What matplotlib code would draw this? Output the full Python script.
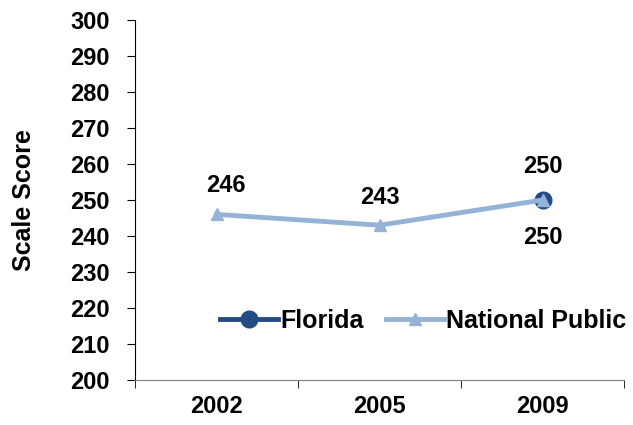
import matplotlib.pyplot as plt

plt.rcParams['font.family'] = ['Liberation Sans', 'DejaVu Sans']
plt.rcParams['font.weight'] = 'bold'

years = ["2002", "2005", "2009"]
florida = [None, None, 250]
national = [246, 243, 250]
national_labels = ["246", "243", "250"]
florida_labels = [None, None, "250"]

dark_blue = "#234C84"
light_blue = "#95B3D7"
fs = 17

fig = plt.figure(figsize=(6.33, 4.25), dpi=100)
ax = fig.add_axes([0.2133, 0.1059, 0.773, 0.8471])

xs = range(len(years))
fl = [(x, v) for x, v in zip(xs, florida) if v is not None]
ax.plot([p[0] for p in fl], [p[1] for p in fl], color=dark_blue, lw=3.5,
        marker="o", ms=12, label="Florida", zorder=3)
ax.plot(list(xs), national, color=light_blue, lw=3.5, marker="^", ms=8,
        label="National Public", zorder=4)

# data labels
offsets = [(7, 21), (0, 20), (0, -27)]
for x, v, t, off in zip(xs, national, national_labels, offsets):
    ax.annotate(t, (x, v), xytext=off, textcoords="offset points",
                ha="center", va="center", fontsize=fs, fontweight="bold")
for x, v, t in zip(xs, florida, florida_labels):
    if t is not None:
        ax.annotate(t, (x, v), xytext=(0, 24), textcoords="offset points",
                    ha="center", va="center", fontsize=fs, fontweight="bold")

ax.set_xlim(-0.5, 2.5)
ax.set_ylim(200, 300)
ax.set_yticks(range(200, 301, 10))
ax.set_xticks(list(xs))
ax.set_xticklabels(years)
ax.set_xticks([-0.5, 0.5, 1.5, 2.5], minor=True)
ax.tick_params(axis="x", which="major", length=0, pad=11, labelsize=fs)
ax.tick_params(axis="x", which="minor", length=6, direction="out")
ax.tick_params(axis="y", length=6, direction="out", labelsize=fs, pad=12)
for lab in ax.get_xticklabels() + ax.get_yticklabels():
    lab.set_fontweight("bold")

ax.spines["top"].set_visible(False)
ax.spines["right"].set_visible(False)
ax.spines["left"].set_color("black")
ax.spines["bottom"].set_color("#808080")

ax.set_ylabel("Scale Score", fontsize=18, fontweight="bold", labelpad=25)

ax.legend(loc="center right", bbox_to_anchor=(1.05, 0.165), ncol=2, frameon=False,
          handlelength=2.3, handletextpad=0.1, columnspacing=0.9,
          prop={"weight": "bold", "size": 18})

fig.savefig("out.png", dpi=100)
